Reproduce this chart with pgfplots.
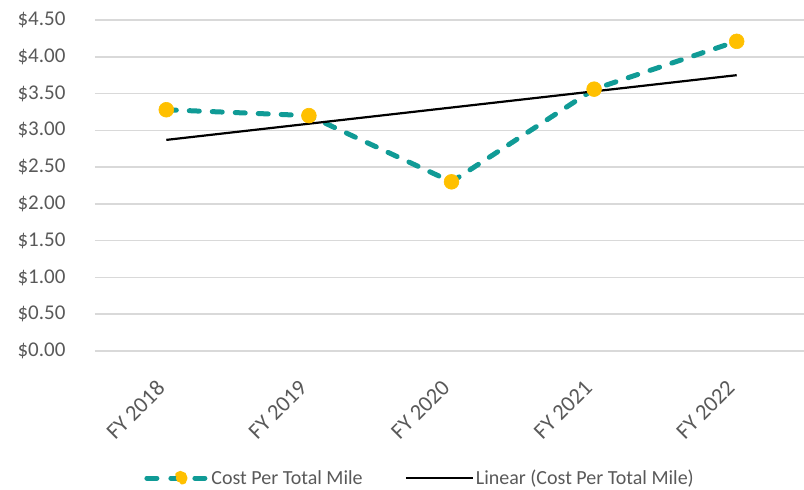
\documentclass[border=0pt]{standalone}
\usepackage{fontspec}
\setmainfont{Carlito}
\usepackage{pgfplots}
\pgfplotsset{compat=1.18}
\definecolor{tealc}{RGB}{16,155,150}
\definecolor{gold}{RGB}{255,192,0}
\definecolor{txt}{RGB}{89,89,89}
\definecolor{gridc}{RGB}{217,217,217}

\begin{document}
\begin{tikzpicture}
\begin{axis}[
  scale only axis, width=713pt, height=331pt,
  xmin=0.5, xmax=5.5, ymin=0, ymax=4.5,
  xtick={1,2,3,4,5},
  xticklabels={FY 2018,FY 2019,FY 2020,FY 2021,FY 2022},
  ytick={0,0.5,1,1.5,2,2.5,3,3.5,4,4.5},
  yticklabels={\$0.00,\$0.50,\$1.00,\$1.50,\$2.00,\$2.50,\$3.00,\$3.50,\$4.00,\$4.50},
  axis line style={draw=none}, major tick length=0pt,
  ymajorgrids, major grid style={gridc, line width=1.5pt},
  yticklabel style={font=\fontsize{21}{25}\selectfont, text=txt, xshift=-26pt},
  xticklabel style={font=\fontsize{22.5}{26}\selectfont, text=txt, xshift=-11pt, yshift=-23pt, rotate=45, anchor=north east},
  legend style={at={(0.456,-0.384)}, anchor=center, draw=none, fill=none,
    font=\fontsize{20}{24}\selectfont, text=txt, legend columns=2,
    /tikz/every even column/.append style={column sep=40pt}},
  legend cell align=left,
  clip=false,
]
\addplot[tealc, line width=5pt, dash pattern=on 10pt off 13pt, line cap=round,
  mark=*, mark size=7.4pt, mark options={solid, fill=gold, draw=gold, line width=0.6pt},
  legend image code/.code={
    \draw[tealc, line width=5pt, line cap=round]
      (2.5pt,0pt) -- (14.5pt,0pt) (26.5pt,0pt) -- (38.5pt,0pt) (50.5pt,0pt) -- (62.5pt,0pt);
    \fill[gold] (36pt,0pt) circle (4.6pt);}]
  coordinates {(1,3.28) (2,3.20) (3,2.30) (4,3.56) (5,4.21)};
\addlegendentry{Cost Per Total Mile}
\addplot[black, line width=2.2pt, mark=none,
  legend image code/.code={\draw[black, line width=2.2pt] (0pt,0pt) -- (67pt,0pt);}]
  coordinates {(1,2.87) (5,3.75)};
\addlegendentry{Linear (Cost Per Total Mile)}
\end{axis}
\pgfresetboundingbox
\path[use as bounding box] (-95pt,-139pt) rectangle (709pt,351pt);
\end{tikzpicture}
\end{document}
